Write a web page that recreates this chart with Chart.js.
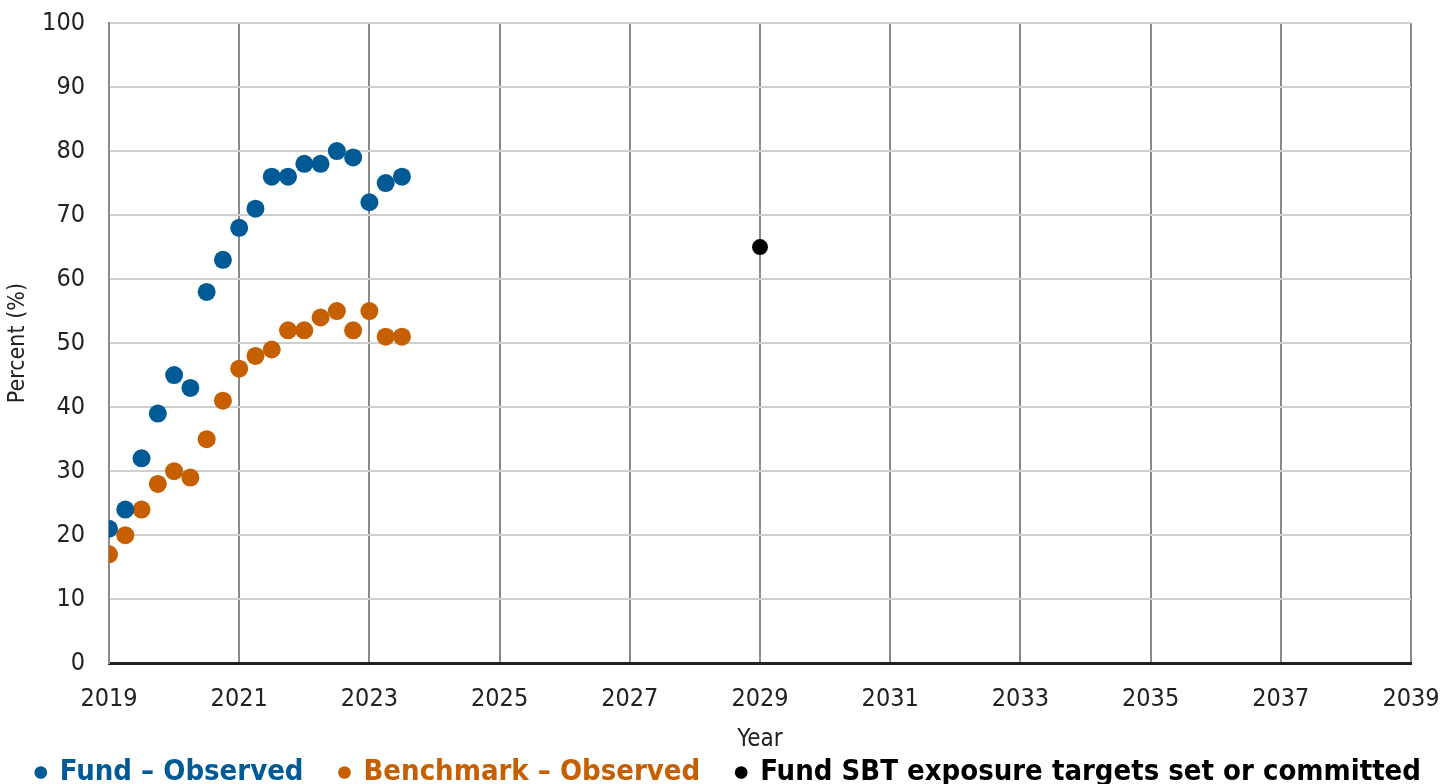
<!DOCTYPE html>
<html>
<head>
<meta charset="utf-8">
<script src="https://cdn.jsdelivr.net/npm/chart.js@4/dist/chart.umd.min.js"></script>
<style>
html,body{margin:0;padding:0;background:#fff;overflow:hidden;}
#wrap{width:1455px;height:813px;position:relative;margin-top:-16px;}
</style>
</head>
<body>
<div id="wrap"><canvas id="c"></canvas></div>
<script>
const quarters = [2019.0,2019.25,2019.5,2019.75,2020.0,2020.25,2020.5,2020.75,2021.0,2021.25,2021.5,2021.75,2022.0,2022.25,2022.5,2022.75,2023.0,2023.25,2023.5];
const fundObserved = [21,24,32,39,45,43,58,63,68,71,76,76,78,78,80,79,72,75,76];
const benchmarkObserved = [17,20,24,28,30,29,35,41,46,48,49,52,52,54,55,52,55,51,51];
const targetYear = [2029];
const targetValue = [65];
const seriesNames = ['Fund \u2013 Observed','Benchmark \u2013 Observed','Fund SBT exposure targets set or committed'];
const xTicks = [2019,2021,2023,2025,2027,2029,2031,2033,2035,2037,2039];
const yTicks = [0,10,20,30,40,50,60,70,80,90,100];

const FONT = '"Liberation Sans Narrow","DejaVu Sans Condensed","Roboto Condensed","Liberation Sans",sans-serif';
const BLUE = '#005a96', ORANGE = '#c55f00', BLACK = '#000000';

const toPts = (xs, ys) => xs.map((x,i)=>({x:x, y:ys[i]}));

new Chart(document.getElementById('c'), {
  type: 'scatter',
  data: {
    datasets: [
      {label: seriesNames[0], data: toPts(quarters, fundObserved), backgroundColor: BLUE, borderColor: BLUE, pointRadius: 9, pointHoverRadius: 9, borderWidth: 0},
      {label: seriesNames[1], data: toPts(quarters, benchmarkObserved), backgroundColor: ORANGE, borderColor: ORANGE, pointRadius: 9, pointHoverRadius: 9, borderWidth: 0},
      {label: seriesNames[2], data: toPts(targetYear, targetValue), backgroundColor: BLACK, borderColor: BLACK, pointRadius: 8, pointHoverRadius: 8, borderWidth: 0}
    ]
  },
  options: {
    responsive: true,
    maintainAspectRatio: false,
    animation: false,
    layout: {padding: {left: 0, right: 30, top: 6, bottom: 0}},
    plugins: {
      tooltip: {enabled: false},
      legend: {
        position: 'bottom',
        align: 'end',
        labels: {
          usePointStyle: true,
          pointStyle: 'circle',
          boxWidth: 9,
          boxHeight: 9,
          padding: 4,
          font: {family: FONT, size: 29, weight: 'bold'},
          generateLabels: (chart) => chart.data.datasets.map((ds, i, arr) => ({
            text: ds.label + (i < arr.length - 1 ? '   \u2009' : ''),
            fillStyle: ds.backgroundColor,
            strokeStyle: ds.backgroundColor,
            fontColor: ds.backgroundColor,
            lineWidth: 0,
            pointStyle: 'circle',
            hidden: false,
            datasetIndex: i
          }))
        }
      }
    },
    scales: {
      x: {
        type: 'linear',
        min: 2019, max: 2039,
        afterBuildTicks: (s) => { s.ticks = xTicks.map(v => ({value: v})); },
        afterFit: (s) => { s.paddingRight = 44; s.paddingLeft = 0; },
        ticks: {callback: v => String(v), color: '#222', font: {family: FONT, size: 25}, padding: 21, maxRotation: 0},
        grid: {color: '#8a8a8a', lineWidth: 2, drawTicks: false},
        border: {color: '#222', width: 3},
        title: {display: true, text: 'Year', color: '#222', font: {family: FONT, size: 24}, padding: {top: -10, bottom: 0}}
      },
      y: {
        min: 0, max: 100,
        afterBuildTicks: (s) => { s.ticks = yTicks.map(v => ({value: v})); },
        afterFit: (s) => { s.width = 109; },
        ticks: {color: '#222', font: {family: FONT, size: 25}, padding: 24},
        grid: {color: '#cfcfcf', lineWidth: 2, drawTicks: false},
        border: {color: '#8a8a8a', width: 2},
        title: {display: true, text: 'Percent (%)', color: '#222', font: {family: FONT, size: 23}, padding: {top: 4, bottom: 0}}
      }
    }
  }
});
</script>
</body>
</html>
